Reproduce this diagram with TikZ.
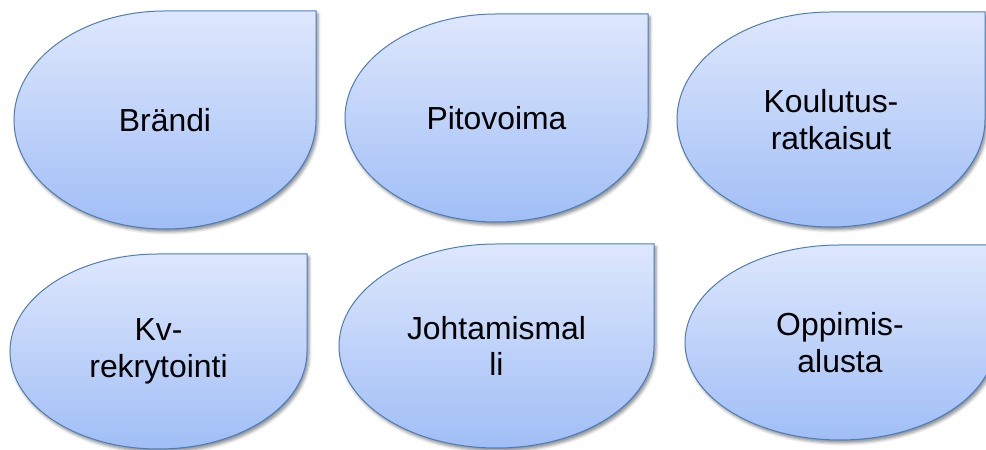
\documentclass[tikz,border=0pt]{standalone}
\usepackage{fontspec}
\setmainfont{Liberation Sans}
\usetikzlibrary{shadows.blur}
\definecolor{tearline}{RGB}{74,126,187}
\definecolor{teartop}{RGB}{222,231,252}
\definecolor{tearbottom}{RGB}{160,190,246}
\tikzset{
  tear/.style={draw=tearline, line width=1bp, top color=teartop, bottom color=tearbottom,
    blur shadow={shadow xshift=2bp, shadow yshift=-3bp, shadow blur radius=3bp, shadow opacity=45}},
  teartext/.style={align=center, font=\fontsize{32}{37}\selectfont, text=black}
}
\begin{document}
\begin{tikzpicture}[x=1bp,y=1bp]
            \useasboundingbox (0,0) rectangle (986,450);
            \foreach \cx/\cy/\rx/\ry/\nm/\txt in {165/330/151/109/brandi/{Brändi},
                496.5/332/151.5/104/pitovoima/{Pitovoima},
                831/330.5/154/107.5/koulutus/{Koulutus-\\ratkaisut},
                158.5/98.5/148.5/97.5/kvrekry/{Kv-\\rekrytointi},
                496.5/104/157.5/102/johtamis/{Johtamismal\\li},
                840/107.5/155/97.5/oppimis/{Oppimis-\\alusta}}
                {\draw[tear] (\cx,\cy+\ry) -- (\cx+\rx,\cy+\ry) -- (\cx+\rx,\cy)
                    arc[start angle=0, end angle=-270, x radius=\rx bp, y radius=\ry bp] -- cycle;
                 \node[teartext] (\nm) at (\cx,\cy) {\txt};}
        \end{tikzpicture}
\end{document}
